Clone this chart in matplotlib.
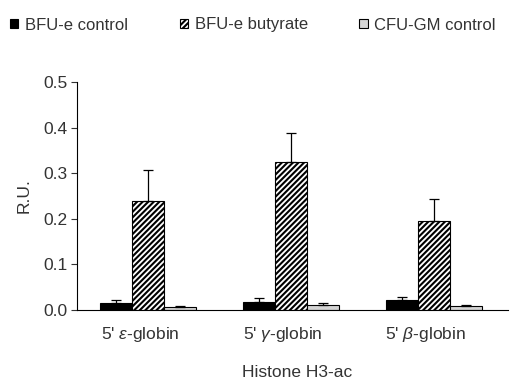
import numpy as np
import matplotlib.pyplot as plt
import matplotlib.transforms as mtransforms
from matplotlib.patches import Patch

plt.rcParams['font.family'] = ['Liberation Sans', 'DejaVu Sans']
plt.rcParams['mathtext.fontset'] = 'custom'
plt.rcParams['mathtext.it'] = 'Liberation Sans:italic'
plt.rcParams['mathtext.rm'] = 'Liberation Sans'
plt.rcParams['hatch.linewidth'] = 1.5

# data
categories = ["5' $\\varepsilon$-globin", "5' $\\gamma$-globin", "5' $\\beta$-globin"]
series = ["BFU-e control", "BFU-e butyrate", "CFU-GM control"]
bfu_control = [0.016, 0.018, 0.022]
bfu_control_err = [0.006, 0.008, 0.007]
bfu_butyrate = [0.240, 0.325, 0.195]
bfu_butyrate_err = [0.068, 0.063, 0.048]
cfu_control = [0.006, 0.010, 0.008]
cfu_control_err = [0.003, 0.005, 0.002]

values = [bfu_control, bfu_butyrate, cfu_control]
errors = [bfu_control_err, bfu_butyrate_err, cfu_control_err]
colors = ['black', 'white', '#d4d4d4']
hatches = [None, '//////', None]
txt = '#333333'
fs = 12.5

fig = plt.figure(figsize=(5.2, 3.87), dpi=100)
ax = fig.add_axes([77/520, 1 - 310/387, 431/520, 228/387])

x = np.arange(len(categories))
w = 0.224
for i in range(3):
    pos = x + (i - 1) * w
    ax.bar(pos, values[i], width=w, color=colors[i], edgecolor='black',
           linewidth=0.8, hatch=hatches[i], zorder=2)
    ax.errorbar(pos, values[i], yerr=[np.zeros(3), errors[i]], fmt='none',
                ecolor='black', elinewidth=0.9, capsize=3.5, capthick=0.9, zorder=3)

ax.set_xlim(-0.5, 2.52)
ax.set_ylim(0, 0.5)
ax.set_yticks(np.arange(0, 0.51, 0.1))
ax.set_yticklabels([f"{v:.1f}" for v in np.arange(0, 0.51, 0.1)])
ax.set_xticks(x)
ax.set_xticklabels(categories)
ax.tick_params(axis='x', length=0, pad=11, labelsize=fs, colors=txt)
ax.tick_params(axis='y', length=4, width=0.8, pad=3, labelsize=fs, colors=txt)
shift = mtransforms.ScaledTranslation(-8/100, 0, fig.dpi_scale_trans)
for lab in ax.get_xticklabels():
    lab.set_transform(lab.get_transform() + shift)
ax.spines['top'].set_visible(False)
ax.spines['right'].set_visible(False)
ax.spines['left'].set_linewidth(0.8)
ax.spines['bottom'].set_linewidth(0.8)
ax.set_ylabel('R.U.', fontsize=fs, color=txt, labelpad=8)
ax.set_xlabel('Histone H3-ac', fontsize=fs, color=txt)
ax.xaxis.set_label_coords(0.51, -0.24)

handles = [Patch(facecolor=colors[i], edgecolor='black', hatch=hatches[i], linewidth=0.8)
           for i in range(3)]
fig.legend(handles, series, loc='center', bbox_to_anchor=(253/520, 1 - 25/387), ncol=3,
           frameon=False, fontsize=12, handlelength=0.5, handleheight=0.5,
           handletextpad=0.4, columnspacing=3.1, labelcolor=txt)

fig.savefig('out.png', dpi=100)
